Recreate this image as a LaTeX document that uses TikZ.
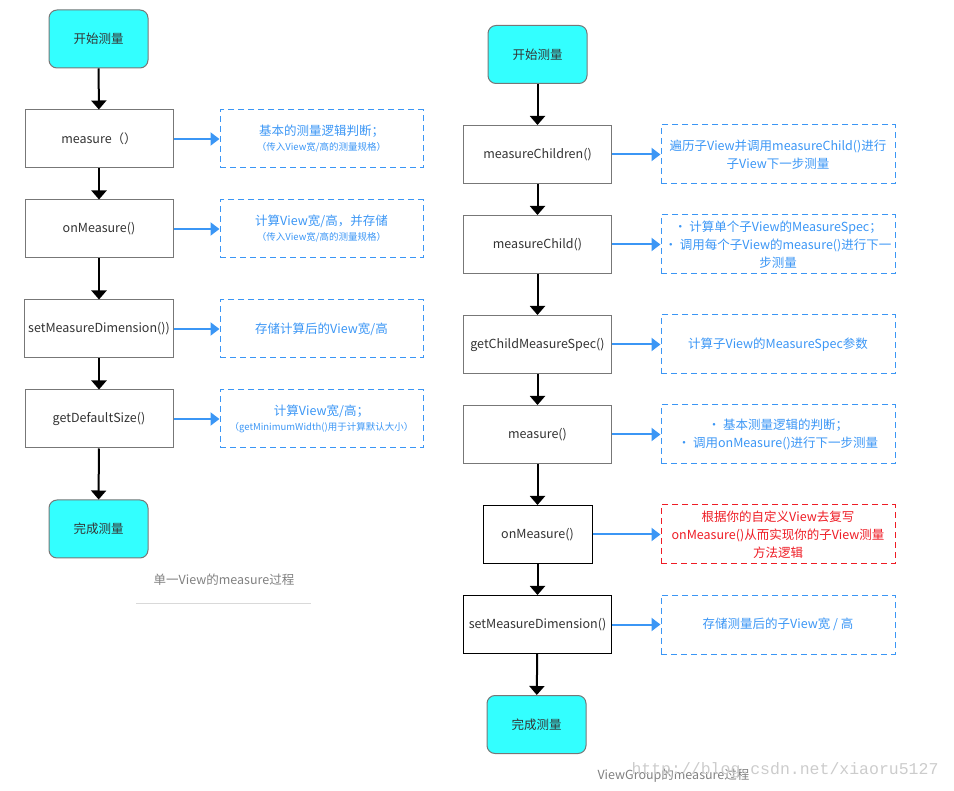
\documentclass[tikz,border=0pt]{standalone}
\usepackage{fontspec}
\setmainfont{Noto Sans CJK SC}
\newfontfamily\markfont{Liberation Mono}
\usepackage{xcolor}
\usetikzlibrary{arrows.meta}

\definecolor{startcyan}{HTML}{33FFFF}
\definecolor{noteblue}{HTML}{3B96F5}
\definecolor{notered}{HTML}{EE1C25}
\definecolor{boxline}{HTML}{777777}
\definecolor{boxtext}{HTML}{333333}

\tikzset{
	procbox/.style={draw=boxline,line width=1pt,fill=white,minimum width=148pt,minimum height=58pt,text=boxtext,font=\fontsize{12.5}{15}\selectfont},
	endbox/.style={procbox,rounded corners=8pt,fill=startcyan,minimum width=99pt},
	notebox/.style={draw=noteblue,text=noteblue,line width=1pt,dash pattern=on 6pt off 4pt,align=center,inner sep=2pt,font=\fontsize{12.5}{18}\selectfont},
	flow/.style={-{Triangle[width=15pt,length=9pt]},line width=2pt,black},
	link/.style={-{Triangle[width=13pt,length=9pt]},line width=2pt,noteblue},
}
\newcommand{\smalltext}{\fontsize{9.5}{14}\selectfont}

\begin{document}
\begin{tikzpicture}[x=1pt,y=-1pt]
	\useasboundingbox (0,0) rectangle (954,791);

	% left: single View
	\node[endbox] (lstart) at (98.5,39) {开始测量};
	\node[procbox] (lmeasure) at (99,139) {measure（）};
	\node[procbox] (lonmeasure) at (99,229) {onMeasure()};
	\node[procbox] (lsetdim) at (99,329) {setMeasureDimension())};
	\node[procbox] (lgetsize) at (99,419) {getDefaultSize()};
	\node[endbox] (lend) at (98.5,529) {完成测量};

	\node[notebox,minimum width=203pt,minimum height=58pt] (lmeasurenote) at (321.5,139) {基本的测量逻辑判断；\\[-3pt]{\smalltext（传入View宽/高的测量规格）}};
	\node[notebox,minimum width=203pt,minimum height=58pt] (lonmeasurenote) at (321.5,229) {计算View宽/高，并存储\\[-3pt]{\smalltext（传入View宽/高的测量规格）}};
	\node[notebox,minimum width=203pt,minimum height=58pt] (lsetdimnote) at (321.5,329) {存储计算后的View宽/高};
	\node[notebox,minimum width=203pt,minimum height=58pt] (lgetsizenote) at (321.5,419) {计算View宽/高；\\[-3pt]{\smalltext（getMinimumWidth()用于计算默认大小）}};

	\node[text=gray,font=\fontsize{12.5}{15}\selectfont] (lcaption) at (224,580) {单一View的measure过程};
	\draw[gray!30,line width=1pt] (136,603) -- (311,603);

	% right: ViewGroup
	\node[endbox] (rstart) at (537.5,54.5) {开始测量};
	\node[procbox] (rchildren) at (537.5,154.5) {measureChildren()};
	\node[procbox] (rchild) at (537.5,244.5) {measureChild()};
	\node[procbox] (rspec) at (537.5,344.5) {getChildMeasureSpec()};
	\node[procbox] (rmeasure) at (537.5,434.5) {measure()};
	\node[procbox,draw=black,minimum width=109pt] (ronmeasure) at (537.5,534.5) {onMeasure()};
	\node[procbox,draw=black] (rsetdim) at (537.5,624.5) {setMeasureDimension()};
	\node[endbox] (rend) at (536.5,724.5) {完成测量};

	\node[notebox,minimum width=234pt,minimum height=59pt] (rchildrennote) at (778,154.5) {遍历子View并调用measureChild()进行\\子View下一步测量};
	\node[notebox,minimum width=234pt,minimum height=59pt] (rchildnote) at (778,244.5) {• 计算单个子View的MeasureSpec；\\• 调用每个子View的measure()进行下一\\步测量};
	\node[notebox,minimum width=234pt,minimum height=59pt] (rspecnote) at (778,344.5) {计算子View的MeasureSpec参数};
	\node[notebox,minimum width=234pt,minimum height=59pt] (rmeasurenote) at (778,434.5) {• 基本测量逻辑的判断；\\• 调用onMeasure()进行下一步测量};
	\node[notebox,draw=notered,text=notered,minimum width=234pt,minimum height=59pt] (ronmeasurenote) at (778,534.5) {根据你的自定义View去复写\\onMeasure()从而实现你的子View测量\\方法逻辑};
	\node[notebox,minimum width=234pt,minimum height=59pt] (rsetdimnote) at (778,624.5) {存储测量后的子View宽 / 高};

	\node[text=gray,font=\fontsize{12.5}{15}\selectfont,anchor=west] (rcaption) at (594,776) {ViewGroup的measure过程};
	\node[text=gray!40,font=\markfont\fontsize{16.5}{18}\selectfont,anchor=west] (watermark) at (628,770) {http://blog.csdn.net/xiaoru5127};

	\foreach \a/\b in {lstart/lmeasure,lmeasure/lonmeasure,lonmeasure/lsetdim,lsetdim/lgetsize,lgetsize/lend,rstart/rchildren,rchildren/rchild,rchild/rspec,rspec/rmeasure,rmeasure/ronmeasure,ronmeasure/rsetdim,rsetdim/rend}
		\draw[flow] (\a) -- (\b);
	\foreach \a in {lmeasure,lonmeasure,lsetdim,lgetsize,rchildren,rchild,rspec,rmeasure,ronmeasure,rsetdim}
		\draw[link] (\a.east) -- (\a note.west);
\end{tikzpicture}
\end{document}
